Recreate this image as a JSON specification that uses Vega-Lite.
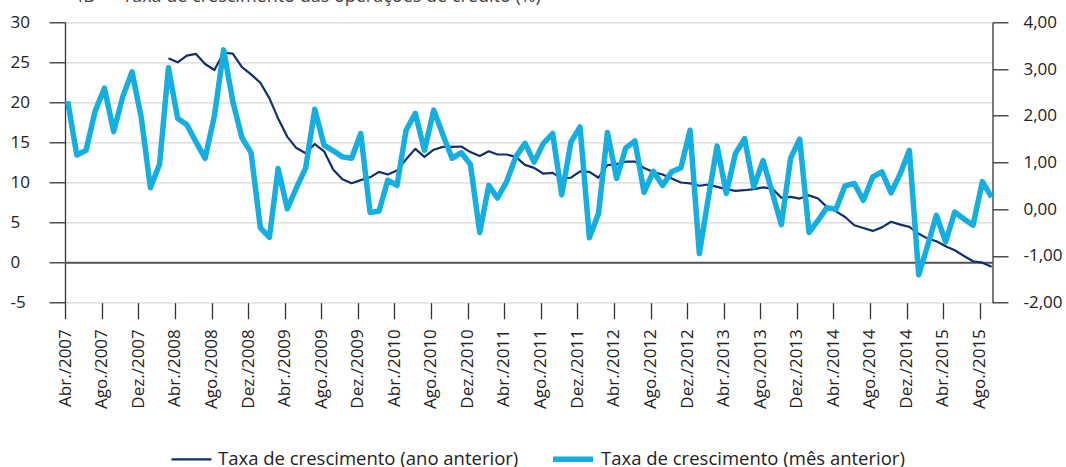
{
  "$schema": "https://vega.github.io/schema/vega-lite/v6.json",
  "width": 927.5,
  "height": 280.4,
  "autosize": {"type": "none"},
  "padding": {"top": 22.3, "left": 65, "right": 73.5, "bottom": 164.3},
  "title": {
    "text": "4B — Taxa de crescimento das operações de crédito (%)",
    "anchor": "start",
    "frame": "group",
    "dx": 8,
    "offset": 7,
    "fontSize": 18,
    "fontWeight": "normal",
    "color": "#444444"
  },
  "config": {
    "font": "Open Sans",
    "view": {"stroke": null}
  },
  "data": {
    "values": [
      {"d": "2007-04", "ano": null, "mes": 2.31},
      {"d": "2007-05", "ano": null, "mes": 1.16},
      {"d": "2007-06", "ano": null, "mes": 1.26},
      {"d": "2007-07", "ano": null, "mes": 2.10},
      {"d": "2007-08", "ano": null, "mes": 2.59},
      {"d": "2007-09", "ano": null, "mes": 1.66},
      {"d": "2007-10", "ano": null, "mes": 2.41},
      {"d": "2007-11", "ano": null, "mes": 2.94},
      {"d": "2007-12", "ano": null, "mes": 1.98},
      {"d": "2008-01", "ano": null, "mes": 0.46},
      {"d": "2008-02", "ano": null, "mes": 0.96},
      {"d": "2008-03", "ano": 25.5, "mes": 3.03},
      {"d": "2008-04", "ano": 25.0, "mes": 1.94},
      {"d": "2008-05", "ano": 25.85, "mes": 1.81},
      {"d": "2008-06", "ano": 26.05, "mes": 1.44},
      {"d": "2008-07", "ano": 24.8, "mes": 1.09},
      {"d": "2008-08", "ano": 24.05, "mes": 2.00},
      {"d": "2008-09", "ano": 26.2, "mes": 3.41},
      {"d": "2008-10", "ano": 26.1, "mes": 2.31},
      {"d": "2008-11", "ano": 24.4, "mes": 1.53},
      {"d": "2008-12", "ano": 23.5, "mes": 1.21},
      {"d": "2009-01", "ano": 22.45, "mes": -0.40},
      {"d": "2009-02", "ano": 20.5, "mes": -0.60},
      {"d": "2009-03", "ano": 18.0, "mes": 0.87},
      {"d": "2009-04", "ano": 15.7, "mes": 0.01},
      {"d": "2009-05", "ano": 14.3, "mes": 0.46},
      {"d": "2009-06", "ano": 13.65, "mes": 0.88},
      {"d": "2009-07", "ano": 14.8, "mes": 2.14},
      {"d": "2009-08", "ano": 13.9, "mes": 1.37},
      {"d": "2009-09", "ano": 11.6, "mes": 1.25},
      {"d": "2009-10", "ano": 10.4, "mes": 1.12},
      {"d": "2009-11", "ano": 9.9, "mes": 1.09},
      {"d": "2009-12", "ano": 10.3, "mes": 1.62},
      {"d": "2010-01", "ano": 10.65, "mes": -0.07},
      {"d": "2010-02", "ano": 11.33, "mes": -0.04},
      {"d": "2010-03", "ano": 11.0, "mes": 0.62},
      {"d": "2010-04", "ano": 11.5, "mes": 0.51},
      {"d": "2010-05", "ano": 12.9, "mes": 1.69},
      {"d": "2010-06", "ano": 14.2, "mes": 2.05},
      {"d": "2010-07", "ano": 13.2, "mes": 1.26},
      {"d": "2010-08", "ano": 14.1, "mes": 2.12},
      {"d": "2010-09", "ano": 14.45, "mes": 1.59},
      {"d": "2010-10", "ano": 14.45, "mes": 1.09},
      {"d": "2010-11", "ano": 14.5, "mes": 1.21},
      {"d": "2010-12", "ano": 13.8, "mes": 0.96},
      {"d": "2011-01", "ano": 13.3, "mes": -0.50},
      {"d": "2011-02", "ano": 13.9, "mes": 0.51},
      {"d": "2011-03", "ano": 13.5, "mes": 0.24},
      {"d": "2011-04", "ano": 13.5, "mes": 0.59},
      {"d": "2011-05", "ano": 13.2, "mes": 1.12},
      {"d": "2011-06", "ano": 12.2, "mes": 1.41},
      {"d": "2011-07", "ano": 11.83, "mes": 1.01},
      {"d": "2011-08", "ano": 11.1, "mes": 1.41},
      {"d": "2011-09", "ano": 11.2, "mes": 1.62},
      {"d": "2011-10", "ano": 10.5, "mes": 0.31},
      {"d": "2011-11", "ano": 10.6, "mes": 1.44},
      {"d": "2011-12", "ano": 11.4, "mes": 1.76},
      {"d": "2012-01", "ano": 11.33, "mes": -0.61},
      {"d": "2012-02", "ano": 10.6, "mes": -0.09},
      {"d": "2012-03", "ano": 12.17, "mes": 1.64},
      {"d": "2012-04", "ano": 12.3, "mes": 0.66},
      {"d": "2012-05", "ano": 12.6, "mes": 1.31},
      {"d": "2012-06", "ano": 12.6, "mes": 1.46},
      {"d": "2012-07", "ano": 11.8, "mes": 0.36},
      {"d": "2012-08", "ano": 11.3, "mes": 0.81},
      {"d": "2012-09", "ano": 11.0, "mes": 0.51},
      {"d": "2012-10", "ano": 10.5, "mes": 0.80},
      {"d": "2012-11", "ano": 10.0, "mes": 0.89},
      {"d": "2012-12", "ano": 9.9, "mes": 1.69},
      {"d": "2013-01", "ano": 9.6, "mes": -0.95},
      {"d": "2013-02", "ano": 9.75, "mes": 0.25},
      {"d": "2013-03", "ano": 9.46, "mes": 1.35},
      {"d": "2013-04", "ano": 9.17, "mes": 0.34},
      {"d": "2013-05", "ano": 8.96, "mes": 1.19},
      {"d": "2013-06", "ano": 9.04, "mes": 1.51},
      {"d": "2013-07", "ano": 9.17, "mes": 0.48},
      {"d": "2013-08", "ano": 9.4, "mes": 1.04},
      {"d": "2013-09", "ano": 9.25, "mes": 0.36},
      {"d": "2013-10", "ano": 8.1, "mes": -0.33},
      {"d": "2013-11", "ano": 8.2, "mes": 1.09},
      {"d": "2013-12", "ano": 8.0, "mes": 1.50},
      {"d": "2014-01", "ano": 8.4, "mes": -0.50},
      {"d": "2014-02", "ano": 8.0, "mes": -0.24},
      {"d": "2014-03", "ano": 6.96, "mes": 0.03},
      {"d": "2014-04", "ano": 6.4, "mes": 0.00},
      {"d": "2014-05", "ano": 5.7, "mes": 0.50},
      {"d": "2014-06", "ano": 4.67, "mes": 0.55},
      {"d": "2014-07", "ano": 4.33, "mes": 0.19},
      {"d": "2014-08", "ano": 3.96, "mes": 0.69},
      {"d": "2014-09", "ano": 4.4, "mes": 0.80},
      {"d": "2014-10", "ano": 5.1, "mes": 0.35},
      {"d": "2014-11", "ano": 4.75, "mes": 0.76},
      {"d": "2014-12", "ano": 4.46, "mes": 1.26},
      {"d": "2015-01", "ano": 3.6, "mes": -1.40},
      {"d": "2015-02", "ano": 3.0, "mes": -0.77},
      {"d": "2015-03", "ano": 2.67, "mes": -0.13},
      {"d": "2015-04", "ano": 2.04, "mes": -0.70},
      {"d": "2015-05", "ano": 1.54, "mes": -0.06},
      {"d": "2015-06", "ano": 0.83, "mes": -0.21},
      {"d": "2015-07", "ano": 0.17, "mes": -0.34},
      {"d": "2015-08", "ano": 0.0, "mes": 0.59},
      {"d": "2015-09", "ano": -0.5, "mes": 0.26}
    ]
  },
  "transform": [
    {"fold": ["ano", "mes"], "as": ["serie", "valor"]},
    {"filter": "isValid(datum.valor)"}
  ],
  "layer": [
    {
      "layer": [
        {
          "data": {"values": [{}]},
          "mark": {"type": "rule", "color": "#555555", "strokeWidth": 2},
          "encoding": {"y": {"datum": 0}}
        },
        {
          "transform": [{"filter": "datum.serie == 'ano'"}],
          "mark": {"type": "line", "strokeJoin": "round"},
          "encoding": {
            "x": {
              "field": "d",
              "type": "temporal",
              "timeUnit": "utcyearmonth",
              "bandPosition": 0.3,
              "scale": {
                "type": "utc",
                "domain": [
                  {"year": 2007, "month": 4, "date": 1, "utc": true},
                  {"year": 2015, "month": 9, "date": 13, "utc": true}
                ]
              },
              "axis": {
                "title": null,
                "grid": false,
                "domain": false,
                "tickCount": 60,
                "values": [
                  {"year": 2007, "month": 4, "date": 1, "utc": true},
                  {"year": 2007, "month": 8, "date": 1, "utc": true},
                  {"year": 2007, "month": 12, "date": 1, "utc": true},
                  {"year": 2008, "month": 4, "date": 1, "utc": true},
                  {"year": 2008, "month": 8, "date": 1, "utc": true},
                  {"year": 2008, "month": 12, "date": 1, "utc": true},
                  {"year": 2009, "month": 4, "date": 1, "utc": true},
                  {"year": 2009, "month": 8, "date": 1, "utc": true},
                  {"year": 2009, "month": 12, "date": 1, "utc": true},
                  {"year": 2010, "month": 4, "date": 1, "utc": true},
                  {"year": 2010, "month": 8, "date": 1, "utc": true},
                  {"year": 2010, "month": 12, "date": 1, "utc": true},
                  {"year": 2011, "month": 4, "date": 1, "utc": true},
                  {"year": 2011, "month": 8, "date": 1, "utc": true},
                  {"year": 2011, "month": 12, "date": 1, "utc": true},
                  {"year": 2012, "month": 4, "date": 1, "utc": true},
                  {"year": 2012, "month": 8, "date": 1, "utc": true},
                  {"year": 2012, "month": 12, "date": 1, "utc": true},
                  {"year": 2013, "month": 4, "date": 1, "utc": true},
                  {"year": 2013, "month": 8, "date": 1, "utc": true},
                  {"year": 2013, "month": 12, "date": 1, "utc": true},
                  {"year": 2014, "month": 4, "date": 1, "utc": true},
                  {"year": 2014, "month": 8, "date": 1, "utc": true},
                  {"year": 2014, "month": 12, "date": 1, "utc": true},
                  {"year": 2015, "month": 4, "date": 1, "utc": true},
                  {"year": 2015, "month": 8, "date": 1, "utc": true}
                ],
                "labelExpr": "['Jan.','Fev.','Mar.','Abr.','Mai.','Jun.','Jul.','Ago.','Set.','Out.','Nov.','Dez.'][utcmonth(datum.value)] + '/' + utcyear(datum.value)",
                "labelAngle": -90,
                "labelFontSize": 17,
                "labelColor": "#222222",
                "labelPadding": 10,
                "labelOverlap": false,
                "labelBound": false,
                "labelFlush": false,
                "tickSize": 16,
                "tickColor": "#333333",
                "tickWidth": 1.3
              }
            },
            "y": {
              "field": "valor",
              "type": "quantitative",
              "scale": {"domain": [-5, 30], "nice": false, "zero": false},
              "axis": {
                "orient": "left",
                "title": null,
                "values": [-5, 0, 5, 10, 15, 20, 25, 30],
                "labelExpr": "'' + datum.value",
                "grid": true,
                "gridColor": "#d6d6d6",
                "gridWidth": 1.2,
                "domainColor": "#333333",
                "domainWidth": 1.3,
                "tickColor": "#333333",
                "tickWidth": 1.3,
                "tickSize": 16,
                "labelAlign": "left",
                "labelPadding": 39,
                "labelFontSize": 17,
                "labelColor": "#222222"
              }
            },
            "color": {
              "field": "serie",
              "type": "nominal",
              "scale": {"domain": ["ano", "mes"], "range": ["#0f2f6e", "#14aee0"]},
              "legend": {
                "title": null,
                "orient": "none",
                "legendX": 105,
                "legendY": 414,
                "direction": "horizontal",
                "symbolType": "stroke",
                "symbolSize": 1600,
                "labelFontSize": 18.5,
                "labelColor": "#222222",
                "labelLimit": 500,
                "columnPadding": 23,
                "labelOffset": 5,
                "labelExpr": "datum.value == 'ano' ? 'Taxa de crescimento (ano anterior)' : 'Taxa de crescimento (mês anterior)'"
              }
            },
            "strokeWidth": {
              "field": "serie",
              "type": "nominal",
              "scale": {"domain": ["ano", "mes"], "range": [2.2, 5.5]}
            }
          }
        }
      ]
    },
    {
      "transform": [{"filter": "datum.serie == 'mes'"}],
      "mark": {"type": "line", "strokeJoin": "round"},
      "encoding": {
        "x": {
          "field": "d",
          "type": "temporal",
          "timeUnit": "utcyearmonth",
          "bandPosition": 0.3
        },
        "y": {
          "field": "valor",
          "type": "quantitative",
          "scale": {"domain": [-2, 4], "nice": false, "zero": false},
          "axis": {
            "orient": "right",
            "title": null,
            "values": [-2, -1, 0, 1, 2, 3, 4],
            "labelExpr": "datum.value + ',00'",
            "grid": false,
            "domainColor": "#333333",
            "domainWidth": 1.3,
            "tickColor": "#333333",
            "tickWidth": 1.3,
            "tickSize": 15.5,
            "labelPadding": 15,
            "labelFontSize": 17,
            "labelColor": "#222222"
          }
        },
        "color": {"field": "serie", "type": "nominal"},
        "strokeWidth": {"field": "serie", "type": "nominal"}
      }
    }
  ],
  "resolve": {"scale": {"y": "independent"}, "axis": {"y": "independent"}}
}
